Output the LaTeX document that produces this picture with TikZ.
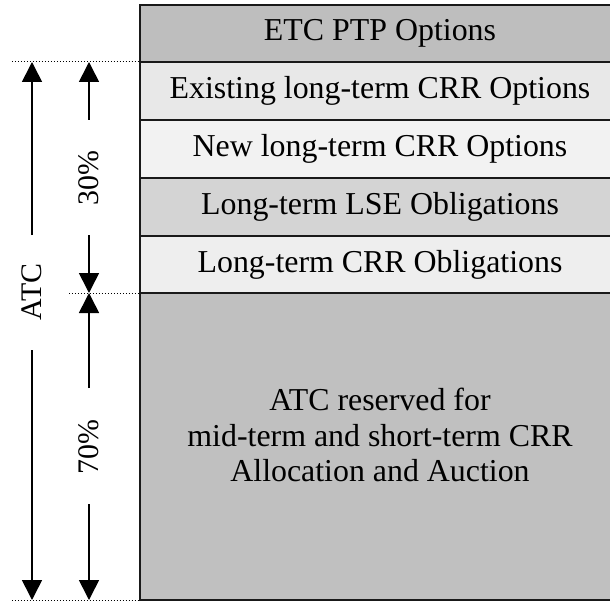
\documentclass[tikz,border=0pt]{standalone}
\usepackage{fontspec}
\setmainfont{Liberation Serif}
\usetikzlibrary{arrows.meta}
\definecolor{cA}{gray}{0.745}
\definecolor{cB}{gray}{0.91}
\definecolor{cC}{gray}{0.95}
\definecolor{cD}{gray}{0.83}
\definecolor{cE}{gray}{0.935}
\definecolor{cF}{gray}{0.753}
\begin{document}
\begin{tikzpicture}[x=1bp,y=-1bp,
  rowbox/.style={draw=black!90, line width=1.6bp, inner sep=0pt, minimum width=480bp,
    font=\fontsize{32}{36}\selectfont, align=center},
  dimline/.style={line width=1.6bp, -{Triangle[width=20bp,length=20bp]}},
  dimlabel/.style={rotate=90, font=\fontsize{30}{34}\selectfont, inner sep=0pt},
  guide/.style={dotted, line width=1bp}]
\useasboundingbox (0,0) rectangle (610,601);
\begin{scope}
\clip (0,0) rectangle (610,601);
\node[rowbox, fill=cF, minimum height=307bp] (r6) at (380,446.5) {};
\node[rowbox, fill=cE, minimum height=57bp] (r5) at (380,264.5) {Long-term CRR Obligations};
\node[rowbox, fill=cD, minimum height=58bp] (r4) at (380,207) {Long-term LSE Obligations};
\node[rowbox, fill=cC, minimum height=58bp] (r3) at (380,149) {New long-term CRR Options};
\node[rowbox, fill=cB, minimum height=58bp] (r2) at (380,91) {Existing long-term CRR Options};
\node[rowbox, fill=cA, minimum height=57bp] (r1) at (380,33.5) {ETC PTP Options};
\node[font=\fontsize{32}{36}\selectfont, align=center] (t6) at (380,435)
  {ATC reserved for\\mid-term and short-term CRR\\Allocation and Auction};
\end{scope}
% guide lines
\coordinate (g1) at (12,62);
\coordinate (g2) at (69,293);
\coordinate (g3) at (12,600);
\coordinate (b1) at (140,62);
\coordinate (b2) at (140,293);
\coordinate (b3) at (140,600);
\draw[guide] (g1) -- (b1);
\draw[guide] (g2) -- (b2);
\draw[guide] (g3) -- (b3);
% ATC arrow
\node[dimlabel] (atc) at (32,292) {ATC};
\coordinate (atcT) at (32,62);
\coordinate (atcB) at (32,600);
\coordinate (atcU) at (32,235);
\coordinate (atcL) at (32,350);
\draw[dimline] (atcU) -- (atcT);
\draw[dimline] (atcL) -- (atcB);
% 30% arrow
\node[dimlabel] (p30) at (89,178) {30\%};
\coordinate (p30T) at (89,62);
\coordinate (p30B) at (89,293);
\coordinate (p30U) at (89,120);
\coordinate (p30L) at (89,235);
\draw[dimline] (p30U) -- (p30T);
\draw[dimline] (p30L) -- (p30B);
% 70% arrow
\node[dimlabel] (p70) at (89,447) {70\%};
\coordinate (p70T) at (89,293);
\coordinate (p70B) at (89,600);
\coordinate (p70U) at (89,388);
\coordinate (p70L) at (89,504);
\draw[dimline] (p70U) -- (p70T);
\draw[dimline] (p70L) -- (p70B);
\end{tikzpicture}
\end{document}
